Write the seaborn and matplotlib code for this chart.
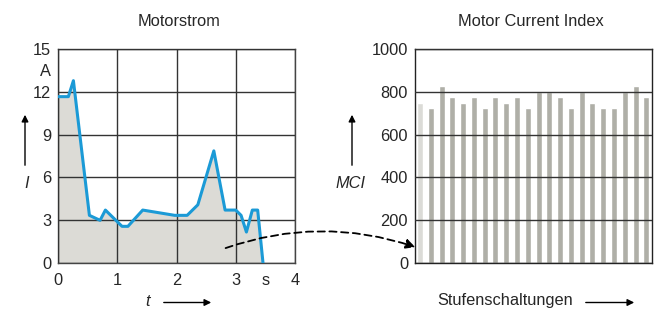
import matplotlib
matplotlib.use("Agg")
import matplotlib.pyplot as plt
import seaborn as sns
import pandas as pd
from matplotlib.patches import FancyArrowPatch

# Motorstrom (A) over time (s)
t_values = [0, 0.175, 0.26, 0.53, 0.71, 0.80, 1.08, 1.18, 1.43, 1.97, 2.18,
            2.36, 2.63, 2.82, 3.0, 3.09, 3.18, 3.28, 3.37, 3.46]
i_values = [11.66, 11.66, 12.78, 3.34, 2.99, 3.71, 2.57, 2.57, 3.71, 3.34, 3.34,
            4.08, 7.86, 3.71, 3.71, 3.34, 2.17, 3.71, 3.71, 0]

# Motor Current Index per Stufenschaltung
steps = list(range(22))
mci_values = [750, 725, 825, 775, 750, 775, 725, 775, 750, 775, 725,
              800, 800, 775, 725, 800, 750, 725, 725, 800, 825, 775]

W, H = 654, 311
FILL = "#dcdbd6"
BAR = "#b0b0a6"
BLUE = "#1b9ad6"
GRID = "#333333"
FS = 11.8

sns.set_style("white")
plt.rcParams["font.family"] = ["Liberation Sans", "DejaVu Sans"]
plt.rcParams["font.size"] = FS

fig = plt.figure(figsize=(W / 100, H / 100), dpi=100)


def fx(px):
    return px / W


def fy(py):
    return 1 - py / H


ax1 = fig.add_axes([fx(58), fy(263), fx(295) - fx(58), fy(49) - fy(263)])
ax2 = fig.add_axes([fx(415), fy(263), fx(652) - fx(415), fy(49) - fy(263)])

# left: current curve
df1 = pd.DataFrame({"t": t_values, "I": i_values})
ax1.fill_between(t_values, i_values, 0, color=FILL, zorder=1, lw=0)
ax1.set_xlim(0, 4)
ax1.set_ylim(0, 15)
ax1.set_xticks([0, 1, 2, 3, 4])
ax1.set_yticks([0, 3, 6, 9, 12, 15])
ax1.set_xticks([3.5], ["s"], minor=True)
ax1.set_yticks([13.5], ["A"], minor=True)
ax1.grid(True, which="major", color=GRID, lw=1, zorder=2)
ax1.set_axisbelow(False)
sns.lineplot(data=df1, x="t", y="I", estimator=None, sort=False, color=BLUE,
             lw=2.2, ax=ax1, zorder=3)
ax1.set_xlabel("")
ax1.set_ylabel("")
ax1.tick_params(which="both", length=0, labelsize=FS)
ax1.tick_params(axis="x", which="both", pad=7)
ax1.tick_params(axis="y", which="both", pad=5)
for s in ax1.spines.values():
    s.set_color("#444444")
    s.set_linewidth(1)

# right: MCI bars
df2 = pd.DataFrame({"step": steps, "MCI": mci_values})
palette = {s: (FILL if s == 0 else BAR) for s in steps}
sns.barplot(data=df2, x="step", y="MCI", hue="step", palette=palette,
            legend=False, width=0.56, ax=ax2, zorder=1)
ax2.set_xlim(-0.46, 21.52)
ax2.set_ylim(0, 1000)
ax2.set_yticks([0, 200, 400, 600, 800, 1000])
ax2.set_xticks([])
ax2.grid(True, axis="y", color=GRID, lw=1)
ax2.set_axisbelow(False)
for p in ax2.patches:
    p.set_zorder(1)
ax2.set_xlabel("")
ax2.set_ylabel("")
ax2.tick_params(length=0, labelsize=FS, pad=5)
for s in ax2.spines.values():
    s.set_color("#222222")
    s.set_linewidth(1)

# titles
fig.text(fx(179), fy(21), "Motorstrom", fontsize=FS, ha="center", va="center")
fig.text(fx(531), fy(21), "Motor Current Index", fontsize=FS, ha="center", va="center")


# axis labels with arrows
def arrow(x0, y0, x1, y1):
    fig.add_artist(FancyArrowPatch((fx(x0), fy(y0)), (fx(x1), fy(y1)),
                                   transform=fig.transFigure, arrowstyle="-|>",
                                   mutation_scale=10, color="black", lw=1))


fig.text(fx(27), fy(183), "I", style="italic", fontsize=FS, ha="center", va="center")
arrow(25, 168, 25, 112)
fig.text(fx(147), fy(302), "t", style="italic", fontsize=FS, ha="center", va="center")
arrow(161, 302.5, 214, 302.5)
fig.text(fx(351), fy(183), "MCI", style="italic", fontsize=FS, ha="center", va="center")
arrow(352, 168, 352, 112)
fig.text(fx(437), fy(301), "Stufenschaltungen", fontsize=FS, ha="left", va="center")
arrow(583, 302.5, 637, 302.5)

# dashed connecting arrow
fig.add_artist(FancyArrowPatch((fx(223), fy(249)), (fx(418), fy(248)),
                               transform=fig.transFigure, arrowstyle="-|>",
                               connectionstyle="arc3,rad=-0.175",
                               mutation_scale=14, color="black", lw=1.3,
                               linestyle=(0, (4, 2.5)), zorder=10))

fig.savefig("out.png", dpi=100)
